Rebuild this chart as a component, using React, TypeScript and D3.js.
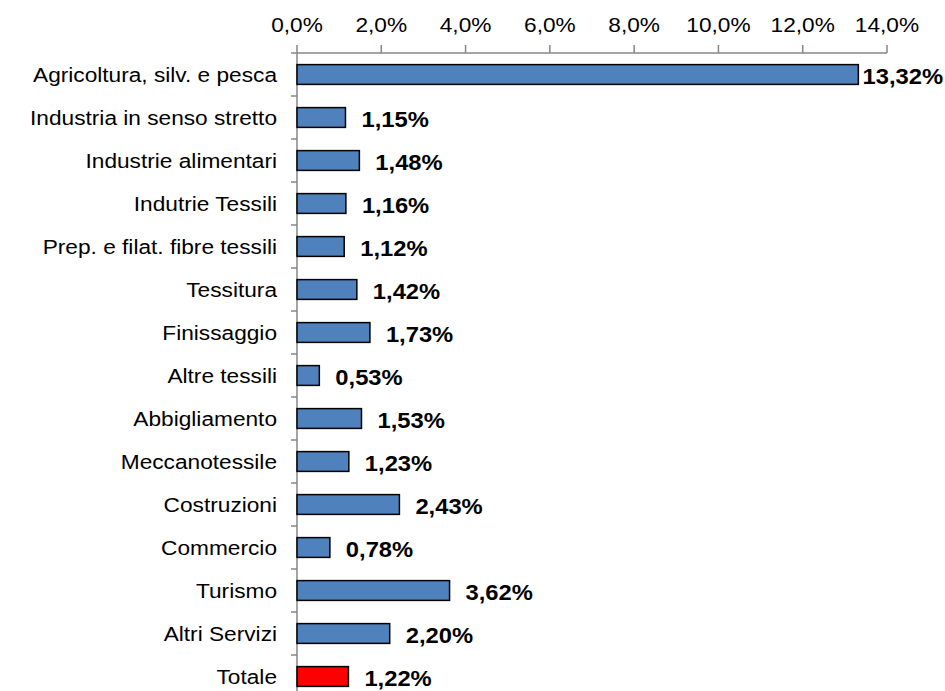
import React from "react";
import * as d3 from "d3";

const categories = [
  "Agricoltura, silv. e pesca",
  "Industria in senso stretto",
  "Industrie alimentari",
  "Indutrie Tessili",
  "Prep. e filat. fibre tessili",
  "Tessitura",
  "Finissaggio",
  "Altre tessili",
  "Abbigliamento",
  "Meccanotessile",
  "Costruzioni",
  "Commercio",
  "Turismo",
  "Altri Servizi",
  "Totale",
];
const values = [13.32, 1.15, 1.48, 1.16, 1.12, 1.42, 1.73, 0.53, 1.53, 1.23, 2.43, 0.78, 3.62, 2.2, 1.22];
const ticks = [0, 2, 4, 6, 8, 10, 12, 14];

const W = 945;
const H = 691;
const left = 297;
const right = 887;
const top = 53;
const step = 43;
const SX = 1.08;

const fmt = (v: number, d: number) => v.toFixed(d).replace(".", ",") + "%";

export default function App() {
  const x = d3.scaleLinear().domain([0, 14]).range([left, right]);
  const y = d3
    .scaleBand<string>()
    .domain(categories)
    .range([top, top + step * categories.length])
    .paddingInner(0.54)
    .paddingOuter(0.27);
  const bounds = d3.range(categories.length + 1).map((i) => top + i * step);
  const axisColor = "#878787";
  const font = "'Liberation Sans', Arial, sans-serif";
  return (
    <div style={{ position: "absolute", left: 0, top: 0 }}>
      <svg width={W} height={H} style={{ display: "block", background: "#fff" }}>
        {/* top axis */}
        <line x1={left} x2={right} y1={top} y2={top} stroke={axisColor} strokeWidth={1.5} />
        {ticks.map((t) => (
          <g key={t}>
            <line x1={x(t)} x2={x(t)} y1={top - 8} y2={top} stroke={axisColor} strokeWidth={1.5} />
            <text
              transform={`translate(${x(t)},32) scale(${SX},1)`}
              textAnchor="middle"
              fontFamily={font}
              fontSize={21}
              fill="#000"
            >
              {fmt(t, 1)}
            </text>
          </g>
        ))}
        {/* left axis */}
        <line x1={left} x2={left} y1={top} y2={H + 10} stroke={axisColor} strokeWidth={1.5} />
        {bounds.map((b, i) => (
          <line key={i} x1={left - 6} x2={left} y1={b} y2={b} stroke={axisColor} strokeWidth={1.5} />
        ))}
        {categories.map((c, i) => {
          const yc = (y(c) as number) + y.bandwidth() / 2;
          const barEnd = x(values[i]);
          const label = fmt(values[i], 2);
          const estW = label.length * 13.2;
          let lx = barEnd + 16;
          let anchor: "start" | "end" = "start";
          if (lx + estW > W - 2) {
            lx = W - 2;
            anchor = "end";
          }
          return (
            <g key={c}>
              <rect
                x={x(0)}
                y={y(c)}
                width={barEnd - x(0)}
                height={y.bandwidth()}
                fill={c === "Totale" ? "#ff0000" : "#4f81bd"}
                stroke="#000"
                strokeWidth={1.5}
              />
              <text
                transform={`translate(277,${yc}) scale(${SX},1)`}
                dy="0.36em"
                textAnchor="end"
                fontFamily={font}
                fontSize={21}
                fill="#000"
              >
                {c}
              </text>
              <text
                transform={`translate(${lx},${yc + 1}) scale(${SX},1)`}
                dy="0.37em"
                textAnchor={anchor}
                fontFamily={font}
                fontSize={22}
                fontWeight="bold"
                fill="#000"
              >
                {label}
              </text>
            </g>
          );
        })}
      </svg>
    </div>
  );
}
